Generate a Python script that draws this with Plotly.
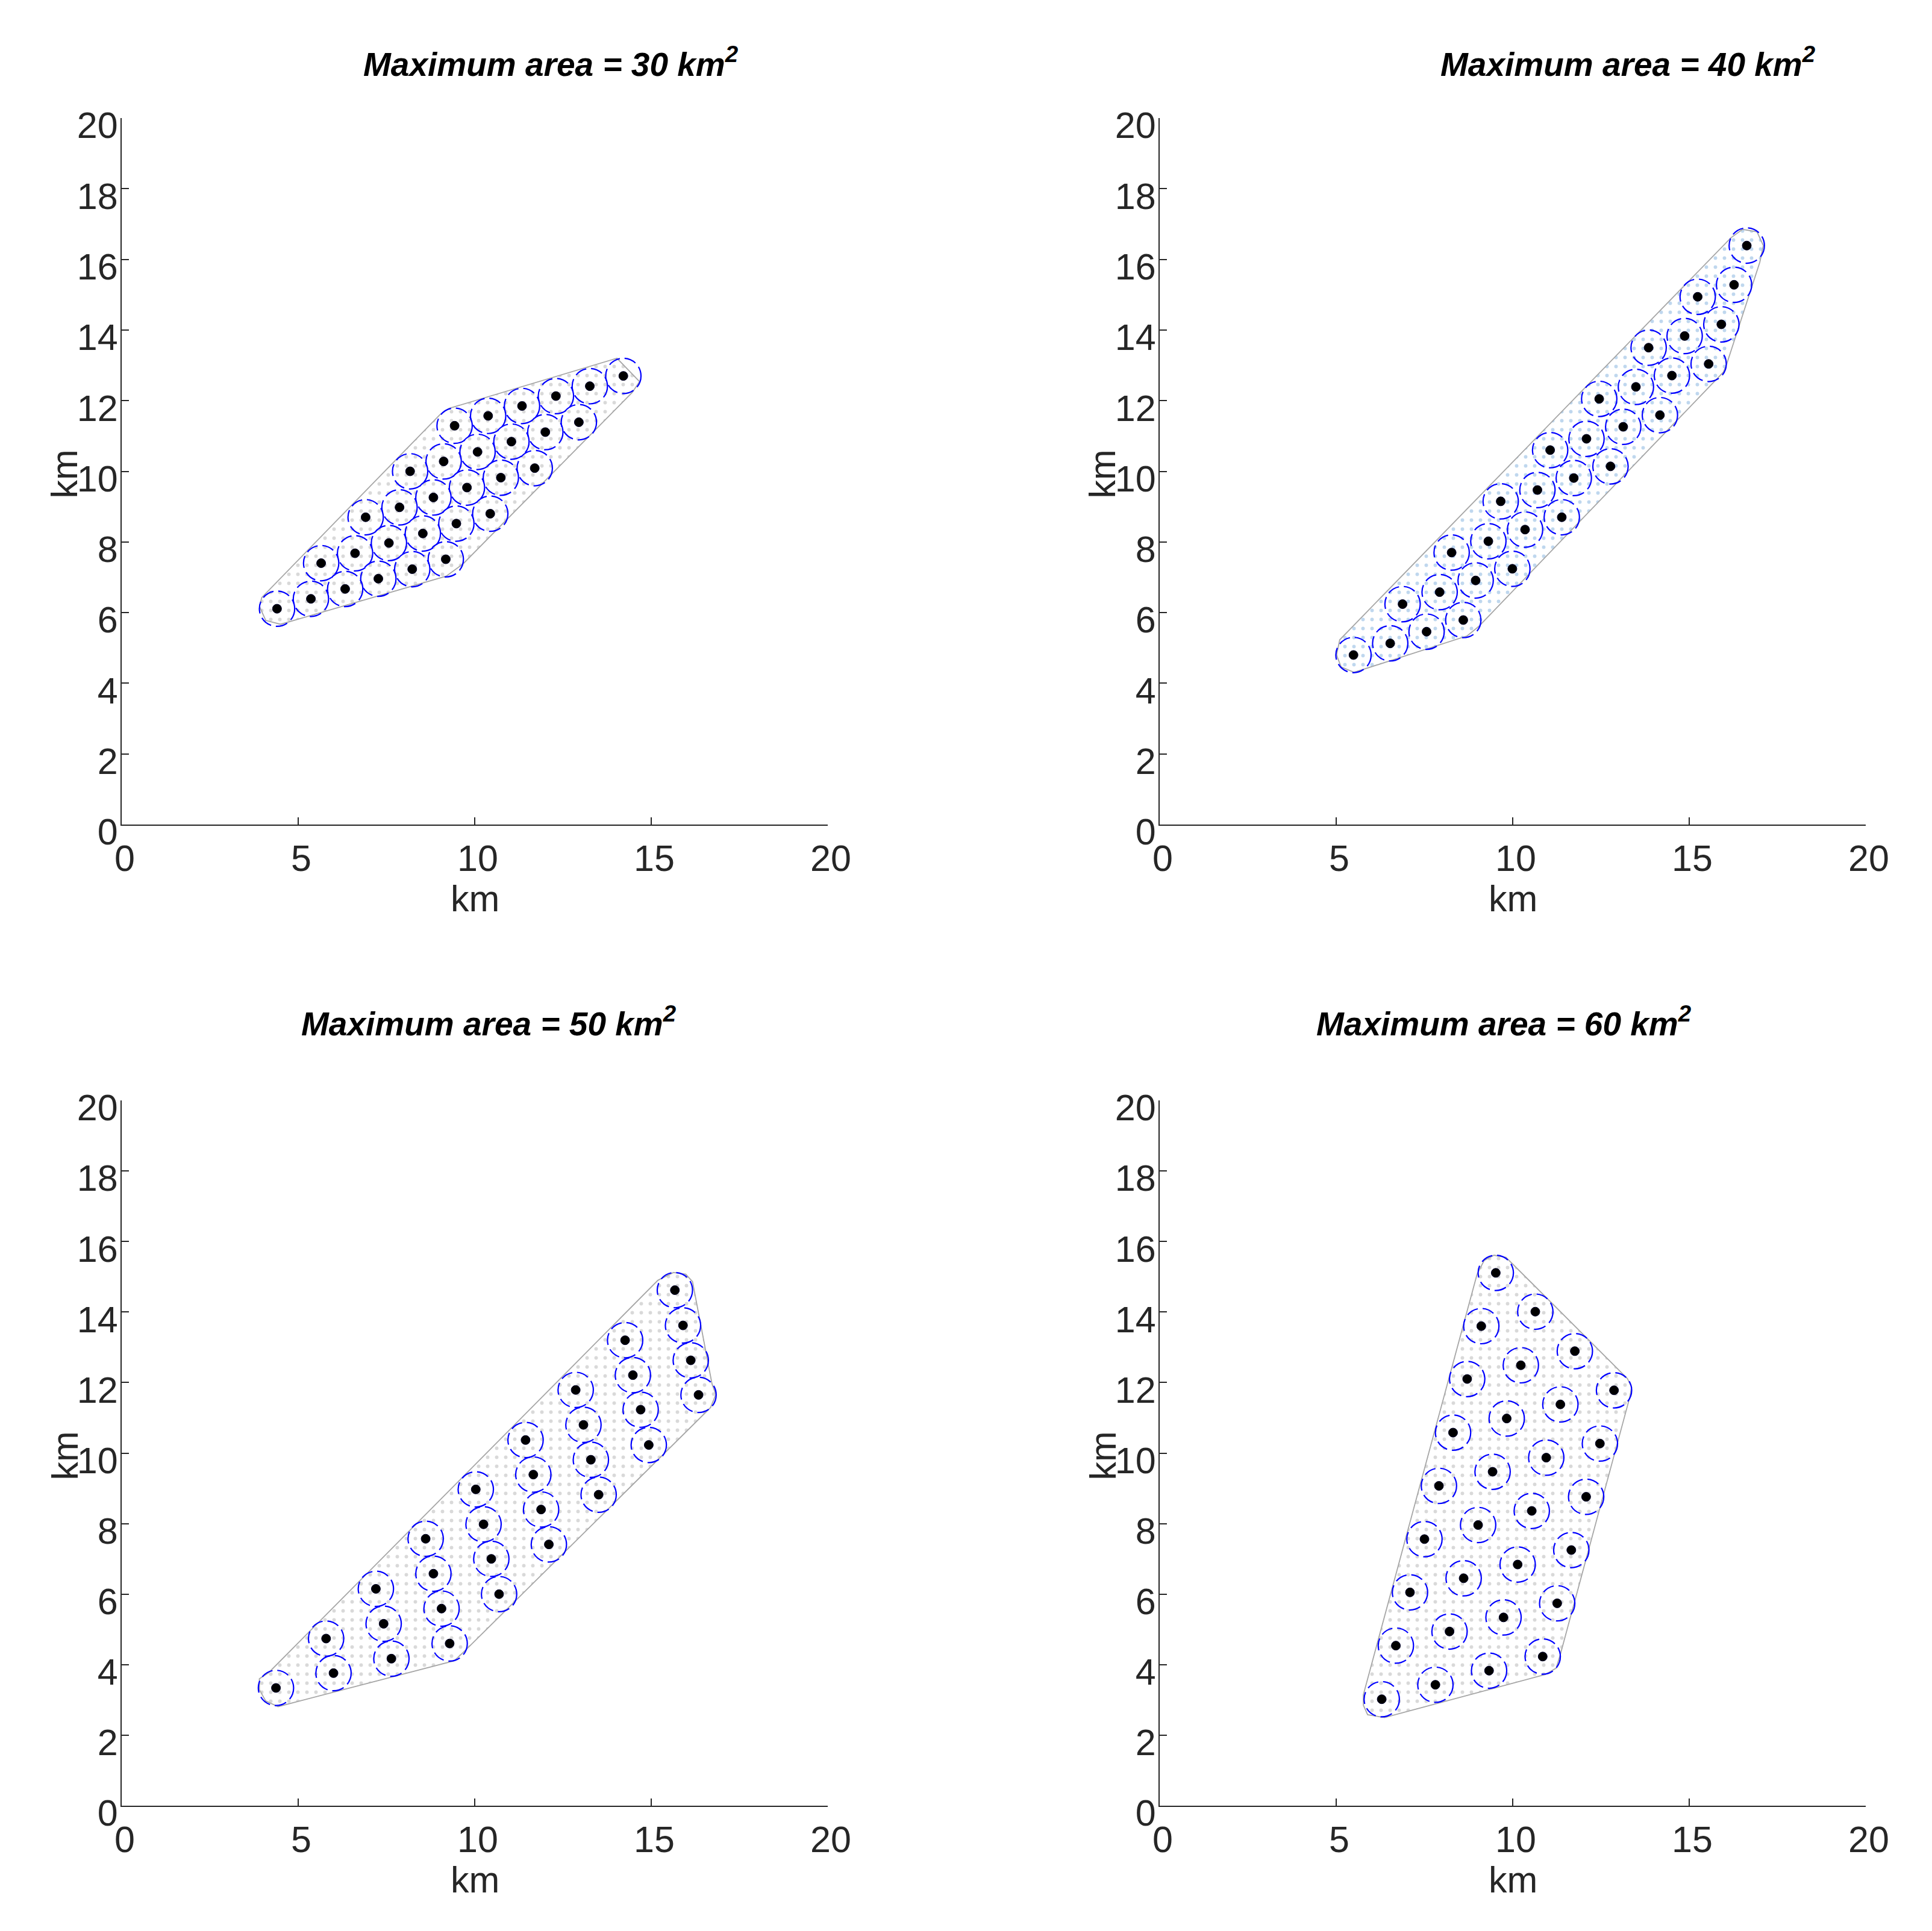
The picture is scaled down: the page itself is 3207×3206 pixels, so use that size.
import plotly.graph_objects as go

# ---------------- data (km) ----------------
titles = ["Maximum area = 30 km<sup>2</sup>", "Maximum area = 40 km<sup>2</sup>",
          "Maximum area = 50 km<sup>2</sup>", "Maximum area = 60 km<sup>2</sup>"]
axis_label = "km"

turb30_x = [4.40, 5.36, 6.33, 7.27, 8.23, 9.18,
            5.65, 6.61, 7.57, 8.53, 9.48, 10.44,
            6.91, 7.87, 8.83, 9.78, 10.74, 11.70,
            8.17, 9.12, 10.08, 11.04, 12.00, 12.95,
            9.43, 10.38, 11.34, 12.30, 13.26, 14.21]
turb30_y = [6.11, 6.39, 6.67, 6.96, 7.23, 7.51,
            7.40, 7.68, 7.97, 8.24, 8.52, 8.80,
            8.70, 8.98, 9.26, 9.54, 9.82, 10.09,
            10.00, 10.28, 10.55, 10.84, 11.11, 11.39,
            11.29, 11.57, 11.85, 12.13, 12.41, 12.70]
poly30_x = [3.90, 4.08, 4.50, 9.19, 9.66, 14.46, 14.67, 14.03, 9.27, 9.02, 3.97, 3.90]
poly30_y = [6.18, 5.78, 5.67, 7.03, 7.37, 12.23, 12.54, 13.20, 11.78, 11.61, 6.43, 6.18]

turb40_x = [5.49, 6.53, 7.56, 8.60,
            6.88, 7.93, 8.95, 9.99,
            8.27, 9.31, 10.35, 11.39,
            9.66, 10.70, 11.73, 12.77,
            11.06, 12.09, 13.13, 14.17,
            12.45, 13.49, 14.51, 15.55,
            13.85, 14.87, 15.91,
            15.24, 16.27,
            16.63]
turb40_y = [4.80, 5.13, 5.46, 5.79,
            6.24, 6.58, 6.91, 7.24,
            7.70, 8.02, 8.35, 8.70,
            9.15, 9.47, 9.81, 10.14,
            10.60, 10.92, 11.26, 11.59,
            12.05, 12.39, 12.71, 13.04,
            13.50, 13.83, 14.16,
            14.94, 15.28,
            16.39]
poly40_x = [5.01, 5.10, 16.18, 16.51, 16.92, 17.10, 17.00, 16.06, 15.97, 9.04, 8.71, 5.51, 5.14, 5.01]
poly40_y = [4.80, 5.23, 16.61, 16.85, 16.78, 16.39, 15.92, 13.03, 12.81, 5.61, 5.34, 4.31, 4.46, 4.80]

turb50_x = [4.37,
            5.79, 6.00,
            7.20, 7.42, 7.64,
            8.61, 8.83, 9.06, 9.29,
            10.03, 10.25, 10.47, 10.69,
            11.44, 11.66, 11.88, 12.10,
            12.86, 13.08, 13.29, 13.51,
            14.26, 14.48, 14.70, 14.93,
            15.67, 15.90, 16.12, 16.34]
turb50_y = [3.34,
            4.74, 3.76,
            6.15, 5.16, 4.17,
            7.57, 6.58, 5.59, 4.60,
            8.97, 7.98, 7.00, 6.00,
            10.37, 9.39, 8.40, 7.41,
            11.79, 10.80, 9.81, 8.82,
            13.20, 12.21, 11.23, 10.23,
            14.62, 13.62, 12.63, 11.65]
poly50_x = [3.90, 4.08, 4.43, 9.42, 9.72, 16.68, 16.83, 16.72, 16.17, 15.98, 15.63, 15.19, 4.17, 3.90, 3.90]
poly50_y = [3.29, 2.97, 2.81, 4.11, 4.39, 11.29, 11.66, 11.97, 14.86, 15.07, 15.12, 14.90, 3.78, 3.60, 3.29]

turb60_x = [9.52, 10.64, 9.11, 11.76, 10.23, 8.71, 12.87, 11.35, 9.83, 8.31,
            12.47, 10.95, 9.43, 7.91, 12.08, 10.54, 9.02, 7.50, 11.66, 10.14,
            8.61, 7.09, 11.26, 9.74, 8.21, 6.69, 10.85, 9.33, 7.81, 6.29]
turb60_y = [15.11, 14.01, 13.60, 12.89, 12.49, 12.10, 11.78, 11.38, 10.98, 10.58,
            10.27, 9.87, 9.47, 9.07, 8.76, 8.36, 7.96, 7.56, 7.25, 6.84,
            6.45, 6.05, 5.74, 5.34, 4.94, 4.54, 4.23, 3.83, 3.43, 3.02]
poly60_x = [8.99, 5.77, 5.77, 5.89, 6.37, 10.92, 11.23, 11.35, 13.31, 13.37, 13.25, 9.81, 9.47, 9.19, 8.99]
poly60_y = [15.07, 3.15, 2.85, 2.58, 2.50, 3.72, 3.90, 4.29, 11.56, 11.87, 12.11, 15.55, 15.61, 15.46, 15.07]

x_ticks = [0, 5, 10, 15, 20]
y_ticks = [0, 2, 4, 6, 8, 10, 12, 14, 16, 18, 20]

# ---------------- styling / layout ----------------
W, H = 3207, 3206
OFF = 8            # default page margin of the html body
RADIUS = 0.5
AX = '#262626'
FONT = 'Liberation Sans, Arial, Helvetica, sans-serif'


def fx(px):
    return (px - OFF) / W


def fy(py):
    return 1 - (py - OFF) / H


col_px = [(202, 1374), (1925, 3097)]
row_px = [(196, 1369), (1827, 2998)]
x_dom = [[fx(a), fx(b)] for a, b in col_px]
y_dom = [[fy(b), fy(a)] for a, b in row_px]

panels = [
    (turb30_x, turb30_y, poly30_x, poly30_y, 0, 0, '#b4b4b4'),
    (turb40_x, turb40_y, poly40_x, poly40_y, 1, 0, '#7fb0dd'),
    (turb50_x, turb50_y, poly50_x, poly50_y, 0, 1, '#b4b4b4'),
    (turb60_x, turb60_y, poly60_x, poly60_y, 1, 1, '#b4b4b4'),
]
title_pos = [(914, 103), (2702, 103), (811, 1696), (2496, 1696)]

fig = go.Figure()
shapes = []
annotations = []
layout = {}
for i, (tx, ty, px, py, col, row, dotc) in enumerate(panels):
    n = '' if i == 0 else str(i + 1)
    xa, ya = 'x' + n, 'y' + n
    fig.add_trace(go.Scatter(x=px, y=py, mode='lines', xaxis=xa, yaxis=ya,
                             fill='toself', fillcolor='rgba(0,0,0,0)',
                             fillpattern=dict(shape='.', size=15, solidity=0.12,
                                              fgcolor=dotc, bgcolor='rgba(255,255,255,0)'),
                             line=dict(color='#a6a6a6', width=1.8), hoverinfo='skip',
                             showlegend=False))
    fig.add_trace(go.Scatter(x=tx, y=ty, mode='markers', xaxis=xa, yaxis=ya,
                             marker=dict(color='black', size=15,
                                         line=dict(color='#00002a', width=1)),
                             showlegend=False))
    for cx, cy in zip(tx, ty):
        shapes.append(dict(type='circle', xref=xa, yref=ya,
                           x0=cx - RADIUS, x1=cx + RADIUS, y0=cy - RADIUS, y1=cy + RADIUS,
                           line=dict(color='#0000ff', width=2.2, dash='20px,8px')))
    layout['xaxis' + n] = dict(
        domain=x_dom[col], anchor=ya, range=[0, 20], tickvals=x_ticks, automargin=False,
        showline=True, linecolor=AX, linewidth=2.2, ticks='inside', ticklen=12,
        tickwidth=2, tickcolor=AX, showgrid=False, zeroline=False,
        tickfont=dict(family=FONT, size=61, color=AX),
        ticklabelstandoff=2, ticklabelshift=5)
    layout['yaxis' + n] = dict(
        domain=y_dom[row], anchor=xa, range=[0, 20], tickvals=y_ticks, automargin=False,
        showline=True, linecolor=AX, linewidth=2.2, ticks='inside', ticklen=12,
        tickwidth=2, tickcolor=AX, showgrid=False, zeroline=False,
        tickfont=dict(family=FONT, size=61, color=AX),
        ticklabelstandoff=-8, ticklabelshift=12)
    # panel title
    tx_, ty_ = title_pos[i]
    annotations.append(dict(text='<b><i>' + titles[i] + '</i></b>', xref='paper', yref='paper',
                            x=fx(tx_), y=fy(ty_), xanchor='center', yanchor='middle',
                            showarrow=False, font=dict(family=FONT, size=55, color='black')))
    # axis titles
    cx0, cx1 = col_px[col]
    ry0, ry1 = row_px[row]
    annotations.append(dict(text=axis_label, xref='paper', yref='paper',
                            x=fx((cx0 + cx1) / 2), y=fy(ry1 + 123), xanchor='center',
                            yanchor='middle', showarrow=False,
                            font=dict(family=FONT, size=61, color=AX)))
    annotations.append(dict(text=axis_label, xref='paper', yref='paper', textangle=-90,
                            x=fx(cx0 - 95), y=fy((ry0 + ry1) / 2 + 5), xanchor='center',
                            yanchor='middle', showarrow=False,
                            font=dict(family=FONT, size=61, color=AX)))

fig.update_layout(width=W, height=H, autosize=False, margin=dict(l=0, r=0, t=0, b=0),
                  paper_bgcolor='white', plot_bgcolor='white', shapes=shapes,
                  annotations=annotations, showlegend=False, **layout)
fig.write_html('out.html')
